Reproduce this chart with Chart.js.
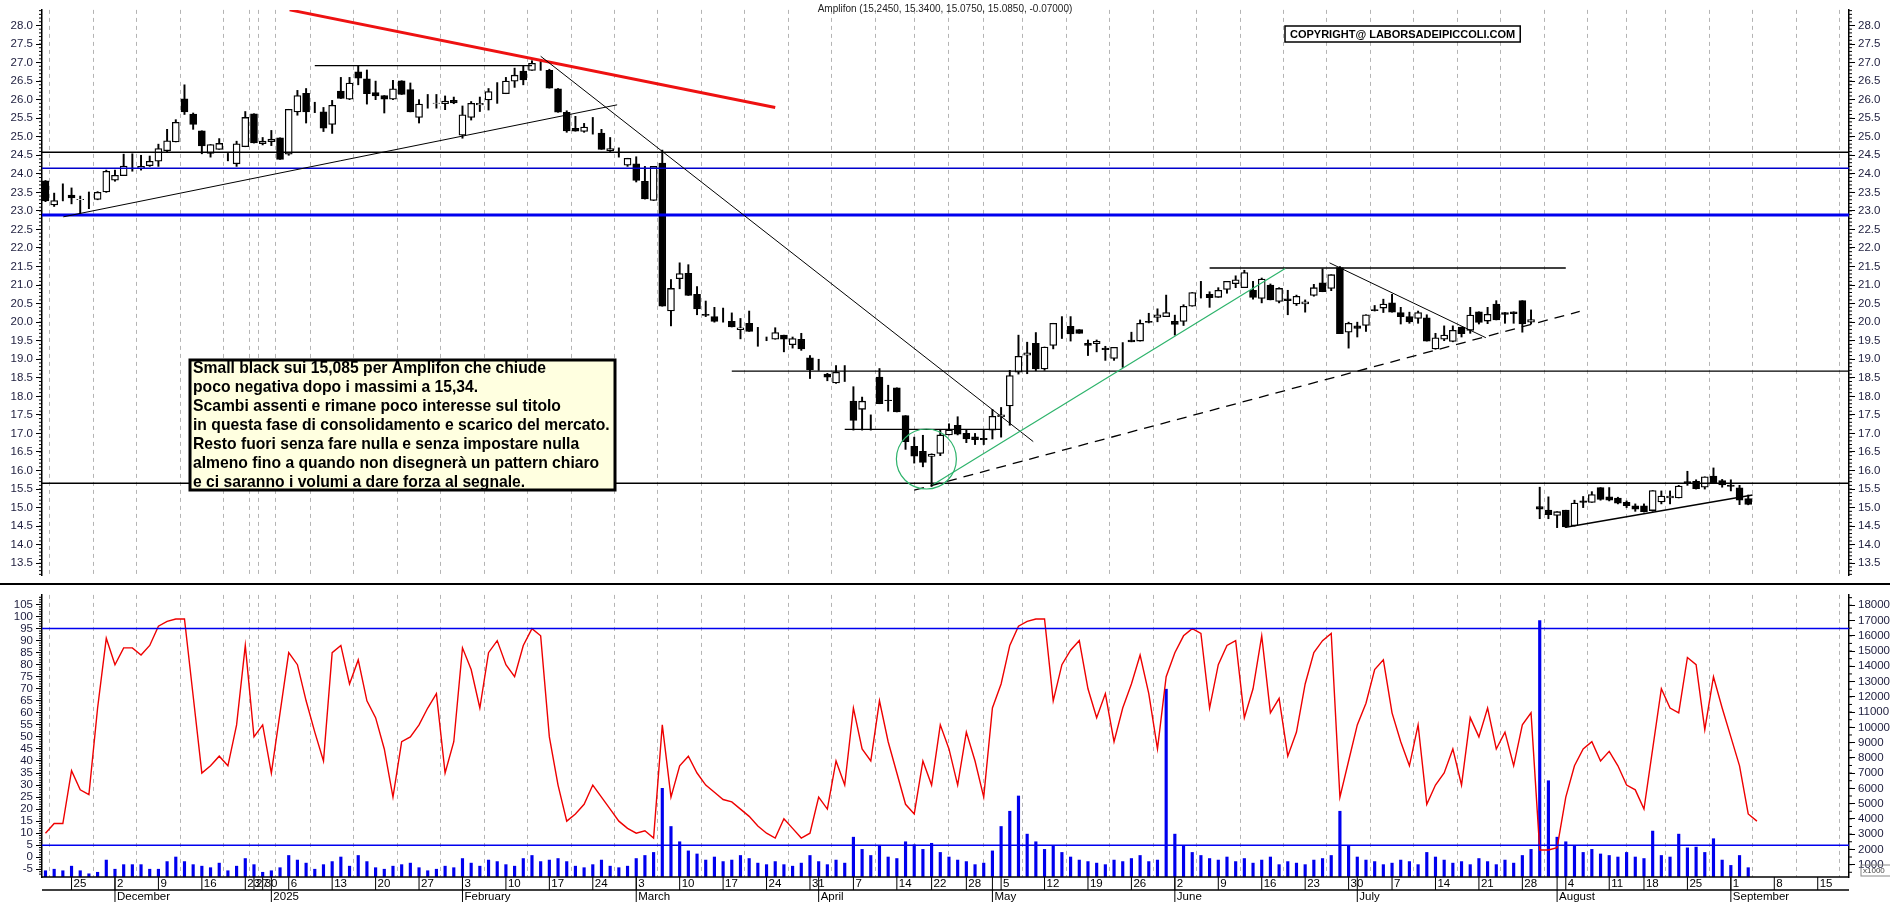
<!DOCTYPE html>
<html><head><meta charset="utf-8">
<script src="https://cdn.jsdelivr.net/npm/chart.js@4.4.1/dist/chart.umd.min.js"></script>
<style>
body{margin:0;background:#fff;width:1890px;height:902px;overflow:hidden;position:relative;font-family:"Liberation Sans",Arial,sans-serif}
#w1{position:absolute;left:0;top:0;width:1890px;height:585px}
#w2{position:absolute;left:0;top:585px;width:1890px;height:317px}
</style></head><body>
<div id="w1"><canvas id="c1"></canvas></div>
<div id="w2"><canvas id="c2"></canvas></div>
<script>
const title = "Amplifon (15.2450, 15.3400, 15.0750, 15.0850, -0.07000)";
const copyright = "COPYRIGHT@ LABORSADEIPICCOLI.COM";
const noteLines = [
 "Small black sui 15,085 per Amplifon che chiude",
 "poco negativa dopo i massimi a 15,34.",
 "Scambi assenti e rimane poco interesse sul titolo",
 "in questa fase di consolidamento e scarico del mercato.",
 "Resto fuori senza fare nulla e senza impostare nulla",
 "almeno fino a quando non disegnerà un pattern chiaro",
 "e ci saranno i volumi a dare forza al segnale."
];
const monthNames = ["January","February","March","April","May","June","July","August","September","October","November","December"];
const holidays = ["2024-12-24","2024-12-25","2024-12-26","2024-12-31","2025-01-01","2025-04-18","2025-04-21","2025-05-01","2025-08-15"];
const firstDay = "2024-11-20", lastAxisDay = "2025-09-19";

const opens = [23.81,23.16,23.27,23.43,23.30,23.29,23.31,23.51,23.83,23.95,24.26,24.15,24.22,24.34,24.62,24.86,26.02,25.61,25.16,24.55,24.66,24.42,24.27,24.73,25.62,24.81,24.87,24.97,24.53,25.67,26.17,25.68,25.67,25.33,26.23,26.01,26.75,26.56,26.19,26.11,26.01,26.51,26.27,25.52,25.90,25.90,25.89,25.98,25.04,25.52,25.86,25.99,26.16,26.16,26.50,26.77,26.79,26.98,26.79,26.29,25.66,25.23,25.14,25.27,25.10,24.62,24.55,24.23,24.27,23.80,23.28,24.29,20.30,21.17,21.32,20.75,20.21,20.15,20.00,20.02,19.80,19.97,19.52,19.52,19.54,19.65,19.39,19.54,19.04,18.93,18.60,18.36,18.56,17.87,17.65,17.13,18.52,17.90,18.23,17.48,16.65,16.52,16.38,16.46,16.96,17.22,17.00,16.91,16.87,17.09,17.45,17.74,18.65,19.11,19.43,18.74,19.37,19.98,19.89,19.80,19.43,19.42,19.30,19.02,19.32,19.52,19.49,20.02,20.13,20.15,20.02,20.02,20.43,20.85,20.75,20.67,20.88,21.04,20.93,20.86,20.64,21.00,20.56,20.63,20.49,20.49,20.72,21.06,20.91,21.47,19.73,19.90,19.91,20.34,20.38,20.52,20.26,20.15,20.10,20.12,19.28,19.54,19.48,19.87,19.78,20.28,20.03,20.49,20.26,20.28,20.58,20.00,15.03,14.93,14.79,14.93,14.51,15.18,15.14,15.54,15.29,15.26,15.14,15.05,15.05,14.92,15.15,15.26,15.26,15.70,15.71,15.55,15.85,15.73,15.61,15.53,15.245];
const highs = [23.82,23.48,23.73,23.62,23.40,23.51,23.52,24.10,24.10,24.53,24.54,24.50,24.48,24.80,25.20,25.46,26.40,25.64,25.16,24.79,24.95,24.55,24.88,25.68,25.62,24.98,25.17,24.97,25.74,26.25,26.30,25.93,25.79,25.98,26.60,26.60,26.92,26.80,26.50,26.11,26.52,26.51,26.45,26.00,26.14,26.14,26.10,26.07,25.83,25.95,26.07,26.30,26.46,26.60,26.85,26.92,27.05,27.07,26.82,26.30,25.70,25.55,25.36,25.52,25.20,24.98,24.70,24.42,24.46,24.20,24.20,24.64,21.15,21.60,21.55,20.96,20.57,20.40,20.38,20.25,20.10,20.30,19.86,19.60,19.85,19.65,19.60,19.70,19.10,19.00,18.62,18.83,18.83,18.26,17.98,17.50,18.75,18.30,18.23,17.48,16.90,16.95,16.45,17.10,17.26,17.45,17.10,17.00,17.10,17.65,17.70,18.70,19.65,19.46,19.72,19.33,19.97,20.15,20.15,19.80,19.52,19.52,19.35,19.32,19.45,19.73,20.06,20.24,20.36,20.73,20.19,20.47,20.80,21.10,20.82,20.93,21.10,21.25,21.40,21.10,21.19,21.03,20.93,20.86,20.73,20.60,21.02,21.44,21.28,21.50,20.00,20.00,20.20,20.45,20.62,20.75,20.40,20.27,20.30,20.20,19.70,19.90,19.90,19.87,20.40,20.28,20.40,20.58,20.26,20.28,20.58,20.33,15.55,15.29,14.89,14.93,15.20,15.30,15.43,15.54,15.54,15.28,15.18,15.10,15.10,15.46,15.45,15.45,15.60,15.98,15.75,15.83,16.07,15.76,15.75,15.60,15.34];
const lows = [23.25,23.12,23.27,23.19,22.90,23.06,23.30,23.50,23.80,23.95,24.07,24.10,24.20,24.20,24.58,24.86,25.60,25.20,24.54,24.45,24.66,24.35,24.20,24.73,24.83,24.78,24.76,24.39,24.50,25.58,25.37,25.65,25.14,25.09,26.03,26.00,26.40,25.88,26.00,25.64,26.00,26.14,25.67,25.37,25.77,25.77,25.73,25.89,24.96,25.45,25.68,25.72,25.90,26.16,26.33,26.40,26.79,26.79,26.31,25.66,25.12,25.15,25.12,25.07,24.66,24.60,24.45,24.20,23.78,23.32,23.28,20.43,19.90,20.90,20.72,20.20,20.15,20.00,20.00,19.87,19.55,19.75,19.35,19.50,19.54,19.20,19.30,19.24,18.48,18.70,18.42,18.35,18.40,17.09,17.09,17.09,17.80,17.60,17.58,16.57,16.20,16.10,15.57,16.40,16.96,16.96,16.75,16.70,16.70,16.85,16.90,17.22,18.60,18.61,18.69,18.70,19.28,19.56,19.49,19.70,19.10,19.20,18.97,18.97,18.78,19.47,19.49,19.98,20.01,20.15,19.65,19.91,20.43,20.65,20.40,20.67,20.78,20.93,20.93,20.62,20.52,20.60,20.52,20.20,20.45,20.27,20.70,20.82,20.85,19.69,19.30,19.60,19.75,20.30,20.26,20.27,19.95,19.97,19.97,19.49,19.27,19.50,19.47,19.60,19.70,19.95,19.96,20.06,19.97,19.97,19.73,19.96,14.70,14.70,14.46,14.46,14.50,15.00,15.14,15.20,15.18,15.10,15.00,14.90,14.88,14.90,15.10,15.10,15.26,15.60,15.50,15.50,15.65,15.55,15.45,15.08,15.075];
const closes = [23.27,23.28,23.27,23.35,23.31,23.29,23.50,24.07,23.96,24.21,24.26,24.20,24.34,24.68,24.89,25.39,25.67,25.33,24.75,24.79,24.82,24.42,24.81,25.52,24.83,24.88,24.94,24.39,25.74,26.11,25.67,25.68,25.23,25.85,26.03,26.45,26.58,26.16,26.10,26.01,26.29,26.14,25.67,25.88,25.90,25.91,25.96,25.91,25.59,25.90,25.90,26.22,26.16,26.50,26.66,26.53,26.98,26.98,26.31,25.66,25.16,25.15,25.26,25.27,24.66,24.68,24.55,24.42,23.82,23.32,24.20,20.43,20.91,21.31,20.72,20.36,20.18,20.02,20.00,19.87,19.85,19.75,19.52,19.52,19.72,19.54,19.56,19.28,18.72,18.93,18.52,18.65,18.56,17.35,17.87,17.13,17.80,17.88,17.58,16.78,16.39,16.22,16.44,16.96,17.09,16.98,16.85,16.83,16.83,17.46,17.50,18.56,19.08,19.17,18.74,19.33,19.97,19.98,19.68,19.70,19.37,19.48,19.26,19.32,19.32,19.47,19.97,19.99,20.20,20.26,19.94,20.43,20.80,20.85,20.66,20.86,21.10,21.14,21.34,20.67,21.16,20.60,20.91,20.58,20.70,20.55,20.93,20.82,21.28,19.69,19.97,19.83,20.20,20.31,20.49,20.27,20.15,20.01,20.26,19.49,19.58,19.65,19.78,19.69,20.19,19.99,20.21,20.06,20.21,20.23,19.95,20.07,14.96,14.81,14.89,14.48,15.12,15.14,15.35,15.22,15.20,15.12,15.05,14.96,14.89,15.46,15.31,15.31,15.58,15.66,15.51,15.83,15.67,15.61,15.57,15.20,15.085];
const oscillator = [10,14,14,36,28,26,62,91,80,87,87,84,88,96,98,99,99,67,35,38,42,38,55,88,50,55,35,60,85,80,65,52,40,85,88,72,82,65,58,45,25,48,50,55,62,68,35,48,87,78,62,85,90,80,75,88,95,92,50,30,15,18,22,30,25,20,15,12,10,11,8,55,25,38,42,35,30,27,24,23,20,17,13,10,8,16,12,8,10,25,20,40,30,62,45,40,65,48,35,22,18,40,30,55,45,30,52,40,25,62,72,88,96,98,99,99,65,80,86,90,70,58,68,48,62,72,84,68,45,75,85,92,95,93,62,80,88,90,58,70,92,60,66,42,52,72,85,90,93,25,40,55,64,78,82,60,48,38,55,22,30,35,45,30,58,50,62,45,52,38,55,60,3,3,4,25,38,45,48,40,44,38,30,28,20,45,70,62,60,83,80,53,75,62,50,38,18,15];
const volumesK = [0.6,0.7,0.6,0.9,0.6,0.4,0.5,1.3,0.7,1.0,1.0,1.0,0.7,0.7,1.2,1.5,1.2,1.0,0.9,0.8,1.1,0.6,0.9,1.4,1.0,0.5,0.6,0.8,1.6,1.3,1.1,0.7,1.0,1.2,1.5,0.9,1.6,1.2,0.8,0.7,0.9,1.0,1.1,0.8,0.6,0.7,0.9,0.8,1.4,1.1,0.9,1.3,1.2,1.0,0.9,1.4,1.6,1.2,1.3,1.4,1.2,0.9,0.8,1.0,1.3,0.9,0.8,0.9,1.4,1.6,1.8,6.0,3.5,2.5,1.9,1.7,1.3,1.5,1.2,1.3,1.6,1.4,1.1,1.0,1.2,1.0,0.9,1.1,1.6,1.2,1.0,1.3,1.1,2.8,2.0,1.6,2.2,1.5,1.4,2.5,2.3,2.0,2.4,1.8,1.5,1.3,1.2,1.0,1.1,1.9,3.5,4.5,5.5,3.0,2.5,2.0,2.2,1.8,1.5,1.3,1.2,1.1,1.0,1.3,1.2,1.4,1.6,1.2,1.3,12.5,3.0,2.2,1.8,1.6,1.4,1.3,1.5,1.2,1.4,1.1,1.3,1.5,1.0,1.2,1.1,1.0,1.3,1.4,1.6,4.5,2.2,1.5,1.3,1.2,1.0,1.1,1.3,1.2,1.0,1.8,1.5,1.3,1.1,1.2,1.0,1.4,1.2,1.0,1.3,1.1,1.6,2.0,17.0,6.5,2.8,2.5,2.2,1.8,2.0,1.7,1.6,1.5,1.8,1.5,1.4,3.2,1.6,1.5,3.0,2.1,2.15,1.8,2.7,1.3,0.95,1.6,0.8];
const priceTicks = [13.5,14.0,14.5,15.0,15.5,16.0,16.5,17.0,17.5,18.0,18.5,19.0,19.5,20.0,20.5,21.0,21.5,22.0,22.5,23.0,23.5,24.0,24.5,25.0,25.5,26.0,26.5,27.0,27.5,28.0];
const oscTicks = [-5,0,5,10,15,20,25,30,35,40,45,50,55,60,65,70,75,80,85,90,95,100,105];
const volTicks = [1,2,3,4,5,6,7,8,9,10,11,12,13,14,15,16,17,18];

// trading calendar
const dates = [];
(function(){
  let d = new Date(firstDay+"T00:00:00Z"); const end = new Date(lastAxisDay+"T00:00:00Z");
  while (d <= end) { const s = d.toISOString().slice(0,10); const wd = d.getUTCDay();
    if (wd!==0 && wd!==6 && holidays.indexOf(s)<0) dates.push(new Date(d));
    d = new Date(d.getTime()+86400000); }
})();
const weekStarts = [], monthStarts = [];
dates.forEach((d,i)=>{
  if (i===0) return;
  const p = dates[i-1];
  if (d.getUTCDay() < p.getUTCDay() || (d - p) > 3*86400000) weekStarts.push(i);
  if (d.getUTCMonth() !== p.getUTCMonth()) monthStarts.push(i);
});
const N = closes.length;
const XMIN = -0.4, XMAX = N - 1 + 11.6;
const FONT = '"Liberation Sans", Arial, sans-serif';
const AXC = '#1c1c3c';

const bodies = [], wicks = [], bodyFill = [];
for (let i=0;i<N;i++){
  bodies.push({x:i, y:[opens[i], closes[i]]});
  wicks.push({x:i, y:[lows[i], highs[i]]});
  bodyFill.push(closes[i] >= opens[i] ? '#ffffff' : '#000000');
}

function xScaleCfg(showArea){
  return { type:'linear', min:XMIN, max:XMAX, offset:false,
    afterBuildTicks: s => { s.ticks = weekStarts.map(v=>({value:v})); },
    ticks:{display:false},
    grid:{display:true, color:'#b4b4b4', lineWidth:1, drawTicks:false},
    border:{display:false, dash:[4,4]},
    afterFit: s => { s.height = showArea; }
  };
}
function yAxis(pos, ticksArr, min, max, fmt, width){
  return { type:'linear', position:pos, min:min, max:max,
    afterBuildTicks: s => { s.ticks = ticksArr.map(v=>({value:v})); },
    afterFit: s => { s.width = width; },
    ticks:{ color:AXC, font:{family:FONT, size:11.5}, padding:3, callback: fmt, autoSkip:false },
    grid:{ drawOnChartArea:false, drawTicks:true, tickLength:6, color:'#000' },
    border:{ display:true, color:'#000', width:1.5 }
  };
}

function P(chart, i, v, yId){ return [chart.scales.x.getPixelForValue(i), chart.scales[yId].getPixelForValue(v)]; }

const overlayTop = {
  id:'overlayTop',
  afterDatasetsDraw(chart){
    const ctx = chart.ctx, ca = chart.chartArea;
    const line = (a,b,color,w,dash) => {
      const p1 = P(chart,a[0],a[1],'y'), p2 = P(chart,b[0],b[1],'y');
      ctx.save(); ctx.beginPath(); ctx.rect(ca.left,ca.top,ca.right-ca.left,ca.bottom-ca.top); ctx.clip();
      ctx.strokeStyle=color; ctx.lineWidth=w; ctx.setLineDash(dash||[]);
      ctx.beginPath(); ctx.moveTo(p1[0],p1[1]); ctx.lineTo(p2[0],p2[1]); ctx.stroke(); ctx.restore();
    };
    const hline = (v,a,b,color,w) => line([a,v],[b,v],color,w);
    hline(24.58, XMIN, XMAX, '#000', 1.5);
    hline(24.15, XMIN, XMAX, '#0000cc', 1.5);
    hline(22.89, XMIN, XMAX, '#0000ee', 3);
    hline(15.66, XMIN, XMAX, '#000', 1.5);
    hline(18.68, 79, XMAX, '#000', 1.3);
    hline(26.92, 31, 56, '#000', 1.3);
    hline(21.46, 134, 175, '#000', 1.3);
    hline(17.11, 92, 110, '#000', 1.3);
    line([28.1,28.42],[84,25.79], '#ee1111', 3);
    line([2.05,22.84],[65.8,25.86], '#000', 1);
    line([57,27.17],[113.7,16.78], '#000', 1);
    line([102.1,15.61],[142.7,21.45], '#2db36b', 1.2);
    line([100,15.47],[176.6,20.29], '#000', 1.3, [10,7]);
    line([147.8,21.6],[165.8,19.58], '#000', 1);
    line([175,14.47],[196.5,15.34], '#000', 1.3);
    const c = P(chart, 101.4, 16.31, 'y');
    ctx.save(); ctx.strokeStyle='#2db36b'; ctx.lineWidth=1.2; ctx.beginPath();
    ctx.ellipse(c[0], c[1], 30, 30, 0, 0, Math.PI*2); ctx.stroke(); ctx.restore();
    ctx.save(); ctx.strokeStyle='#000'; ctx.lineWidth=1;
    for (let v=13.2; v<=28.41; v+=0.1){
      const y = chart.scales.y.getPixelForValue(v);
      ctx.beginPath(); ctx.moveTo(ca.left-3,y); ctx.lineTo(ca.left,y); ctx.moveTo(ca.right,y); ctx.lineTo(ca.right+3,y); ctx.stroke();
    }
    ctx.restore();
    ctx.save();
    const bx=190, by=360, bw=425, bh=130;
    ctx.fillStyle='#ffffe0'; ctx.fillRect(bx,by,bw,bh);
    ctx.strokeStyle='#000'; ctx.lineWidth=3; ctx.strokeRect(bx,by,bw,bh);
    let fs = 16; ctx.font = 'bold '+fs+'px '+FONT;
    const maxW = Math.max(...noteLines.map(l=>ctx.measureText(l).width));
    fs = fs*417/maxW; ctx.font = 'bold '+fs.toFixed(2)+'px '+FONT;
    ctx.fillStyle='#000'; ctx.textBaseline='middle'; ctx.textAlign='left';
    noteLines.forEach((l,k)=> ctx.fillText(l, bx+3, by+9+k*18.9));
    ctx.font = 'bold 11px '+FONT;
    const cw = ctx.measureText(copyright).width;
    ctx.fillStyle='#fff'; ctx.fillRect(1285,26,cw+10,16);
    ctx.strokeStyle='#000'; ctx.lineWidth=1.5; ctx.strokeRect(1285,26,cw+10,16);
    ctx.fillStyle='#000'; ctx.fillText(copyright, 1290, 34.5);
    ctx.font = '10px '+FONT; ctx.textAlign='center'; ctx.fillStyle='#222';
    ctx.fillText(title, 945, 9);
    ctx.strokeStyle='#000'; ctx.lineWidth=2; ctx.beginPath(); ctx.moveTo(0,584); ctx.lineTo(1890,584); ctx.stroke();
    ctx.restore();
  }
};

const overlayBottom = {
  id:'overlayBottom',
  afterDatasetsDraw(chart){
    const ctx = chart.ctx, ca = chart.chartArea, xs = chart.scales.x;
    ctx.save();
    [95,5].forEach(v=>{ const y = chart.scales.yO.getPixelForValue(v);
      ctx.strokeStyle='#0000ee'; ctx.lineWidth=1.5; ctx.beginPath(); ctx.moveTo(ca.left,y); ctx.lineTo(ca.right,y); ctx.stroke(); });
    ctx.strokeStyle='#000'; ctx.lineWidth=1;
    for (let v=-7; v<=108; v+=1){ const y = chart.scales.yO.getPixelForValue(v);
      ctx.beginPath(); ctx.moveTo(ca.left-3,y); ctx.lineTo(ca.left,y); ctx.stroke(); }
    for (let v=0.5; v<=18.5; v+=0.5){ const y = chart.scales.yV.getPixelForValue(v);
      ctx.beginPath(); ctx.moveTo(ca.right,y); ctx.lineTo(ca.right+3,y); ctx.stroke(); }
    const top = ca.bottom, mid = ca.bottom+13, bot = 317;
    ctx.strokeStyle='#000'; ctx.lineWidth=1.5;
    ctx.beginPath(); ctx.moveTo(ca.left,top); ctx.lineTo(ca.right,top); ctx.stroke();
    ctx.beginPath(); ctx.moveTo(ca.left,mid); ctx.lineTo(ca.right,mid); ctx.stroke();
    ctx.font = '11.5px '+FONT; ctx.fillStyle='#000'; ctx.textBaseline='middle'; ctx.textAlign='left';
    ctx.lineWidth=1;
    weekStarts.forEach(i=>{ const x = xs.getPixelForValue(i); if (x>ca.right-5) return;
      ctx.beginPath(); ctx.moveTo(x,top); ctx.lineTo(x,mid); ctx.stroke();
      ctx.fillText(String(dates[i].getUTCDate()), x+2, top+7); });
    monthStarts.forEach(i=>{ const x = xs.getPixelForValue(i); if (x>ca.right-5) return;
      ctx.beginPath(); ctx.moveTo(x,top); ctx.lineTo(x,bot); ctx.stroke();
      const m = dates[i].getUTCMonth();
      const label = m===0 ? String(dates[i].getUTCFullYear()) : monthNames[m];
      ctx.fillText(label, x+2, mid+7); });
    ctx.font = '8px '+FONT; ctx.fillStyle='#444';
    ctx.strokeStyle='#888'; ctx.strokeRect(ca.right+12, top-12, 30, 11);
    ctx.fillText('x1000', ca.right+14, top-6.5);
    ctx.restore();
  }
};

new Chart(document.getElementById('c1'), {
  type:'bar',
  data:{ datasets:[
    { data:wicks, backgroundColor:'#000', borderWidth:0, barThickness:1.3, grouped:false, order:2 },
    { data:bodies, backgroundColor:bodyFill, borderColor:'#000', borderWidth:1.3, borderSkipped:false, barThickness:7, grouped:false, order:1 }
  ]},
  options:{ responsive:true, maintainAspectRatio:false, animation:false,
    layout:{padding:0},
    plugins:{legend:{display:false}, tooltip:{enabled:false}},
    scales:{ x: xScaleCfg(0),
      y: yAxis('left', priceTicks, 13.18, 28.42, v=>v.toFixed(1), 42),
      y2: yAxis('right', priceTicks, 13.18, 28.42, v=>v.toFixed(1), 41) } },
  plugins:[overlayTop]
});

new Chart(document.getElementById('c2'), {
  type:'bar',
  data:{ datasets:[
    { type:'line', data:oscillator.map((v,i)=>({x:i,y:v})), borderColor:'#ee0000', borderWidth:1.4, pointRadius:0, tension:0, yAxisID:'yO', order:1 },
    { data:volumesK.map((v,i)=>({x:i,y:v})), backgroundColor:'#0000ee', barThickness:2.5, grouped:false, yAxisID:'yV', order:2 }
  ]},
  options:{ responsive:true, maintainAspectRatio:false, animation:false,
    layout:{padding:0},
    plugins:{legend:{display:false}, tooltip:{enabled:false}},
    scales:{ x: xScaleCfg(25),
      yO: yAxis('left', oscTicks, -8.2, 109, v=>String(v), 42),
      yV: yAxis('right', volTicks, 0.19, 18.68, v=>String(v*1000), 41) } },
  plugins:[overlayBottom]
});
</script>
</body></html>
